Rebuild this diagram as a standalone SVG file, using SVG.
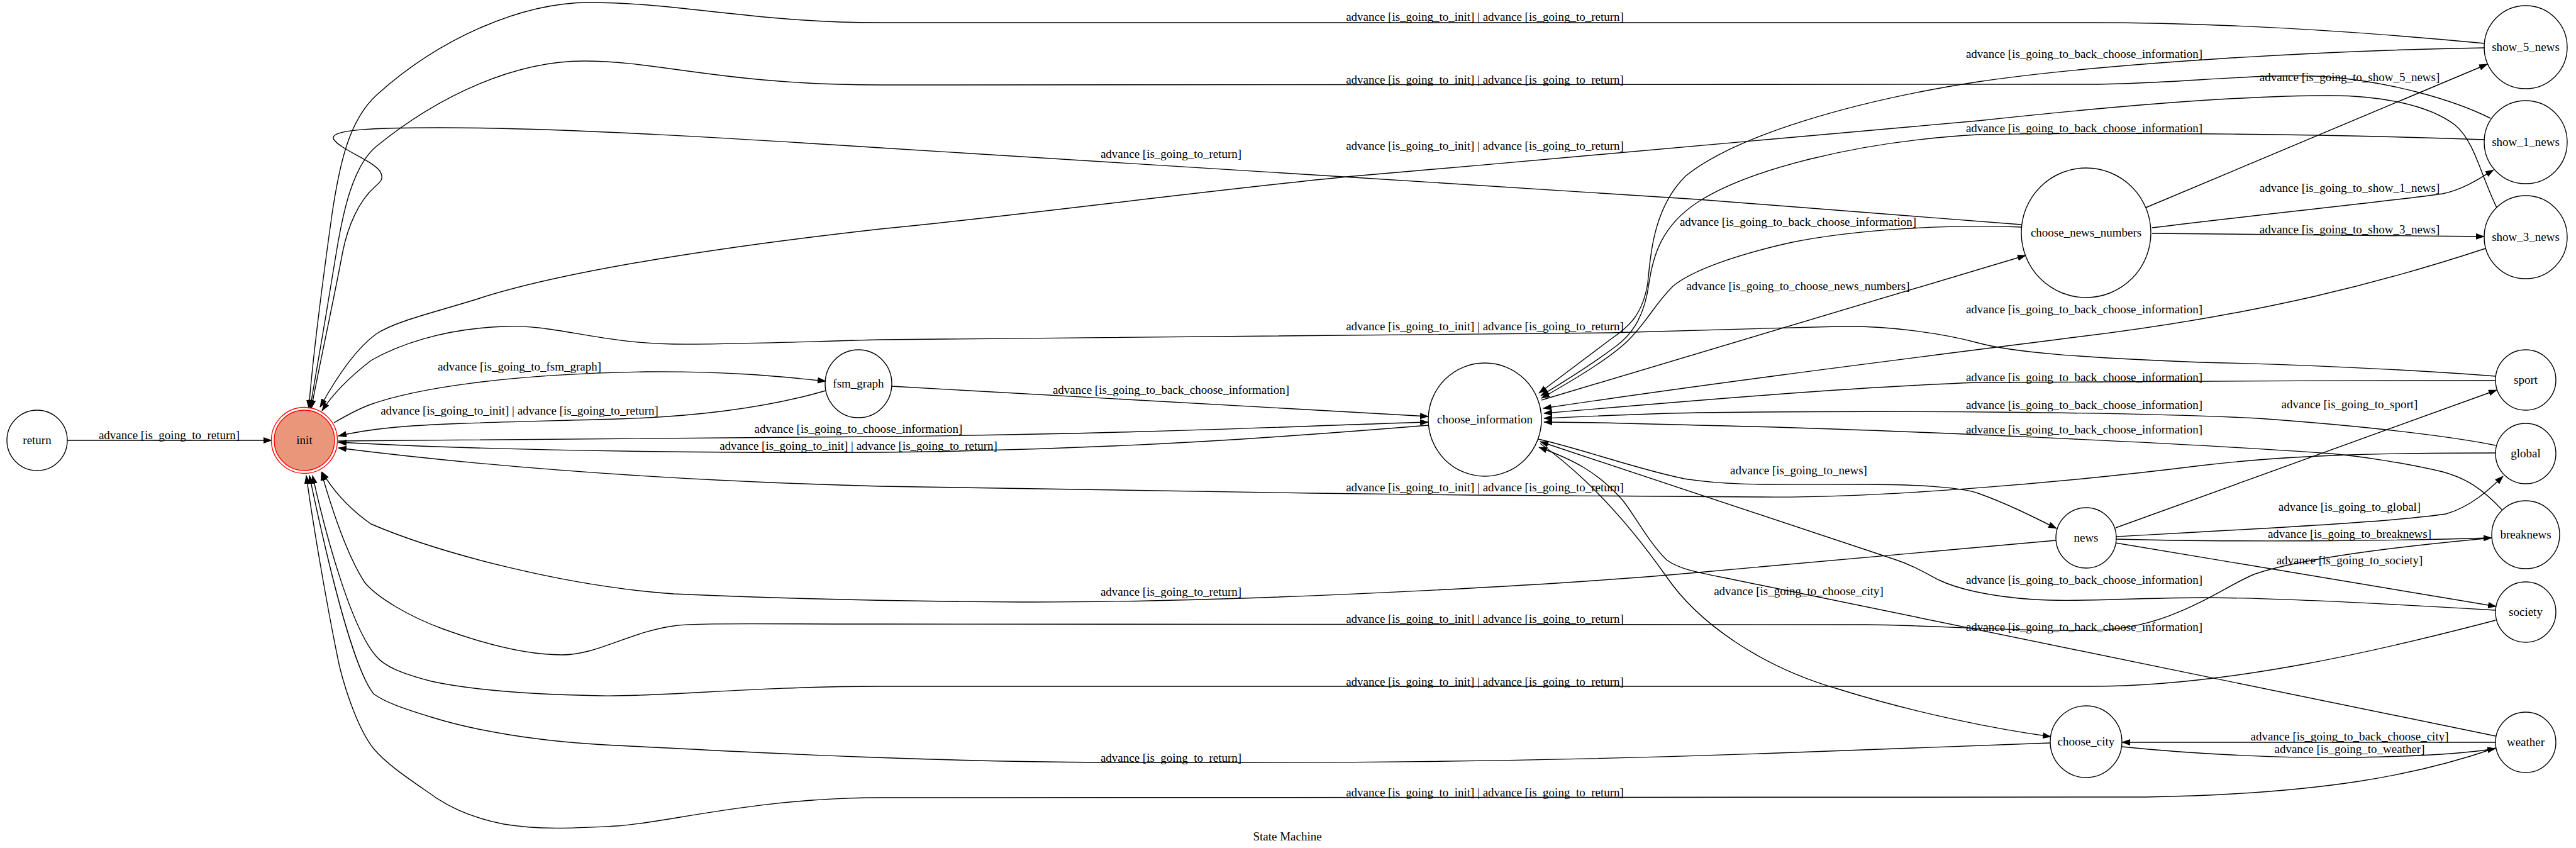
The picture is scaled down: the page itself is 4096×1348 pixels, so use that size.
<svg xmlns="http://www.w3.org/2000/svg" width="4096" height="1348" viewBox="0 0 4096 1348">
<style>
.n{fill:none;stroke:#000;stroke-width:1.4}
.e path{fill:none;stroke:#000;stroke-width:1.4;marker-end:url(#arr)}
text{font-family:"Liberation Serif","Times New Roman",serif;font-size:19px;text-anchor:middle;fill:#000}
</style>
<defs>
<marker id="arr" viewBox="0 0 14 10" refX="13" refY="5" markerWidth="14" markerHeight="10" markerUnits="userSpaceOnUse" orient="auto"><path d="M0,0 L14,5 L0,10 z" fill="#000"/></marker>
</defs>
<rect width="4096" height="1348" fill="#fff"/>
<g id="connectors" class="e">
<path d="M107,700 L432,700"/>
<path d="M531,672 C555,658 570,650 589,643 C660,618 800,595 1027,591 C1150,590 1230,597 1313,606"/>
<path d="M1313,621 C1230,645 1120,662 982,666 C850,670 700,672 620,680 C590,683 560,688 538,693"/>
<path d="M1418,614 L2271,662"/>
<path d="M538,701 C700,699 1000,698 1400,694 C1800,690 2100,676 2271,671"/>
<path d="M2272,676 C2100,690 1800,715 1400,719 C1000,721 700,712 538,703"/>
<path d="M2451,636 L3221,406"/>
<path d="M3214,361 C3100,356 2950,365 2850,385 C2760,405 2690,430 2660,455 C2630,485 2620,510 2590,540 C2560,570 2500,605 2451,633"/>
<path d="M3214,357 L2700,317 C2300,290 1700,255 1400,235 C1200,222 900,203 700,203 C600,203 520,205 531,222 C542,238 592,255 604,272 C612,284 604,290 596,297 C570,320 553,360 545,400 C530,480 508,580 495,649"/>
<path d="M3951,69 C3700,45 3500,36 3323,36 L1400,36 C1200,36 1080,4 937,4 C830,4 700,60 600,150 C555,190 540,260 528,340 C514,440 498,560 491,649"/>
<path d="M3960,188 C3900,158 3800,130 3700,122 C3600,115 3450,134 3323,134 L1400,135 C1150,135 1050,97 928,97 C820,97 700,150 598,233 C560,265 545,340 535,400 C522,480 505,580 493,649"/>
<path d="M3970,330 C3945,280 3935,225 3904,199 C3860,165 3780,152 3706,152 C3550,152 3350,170 3145,192 C2900,215 2500,250 2141,281 C1900,305 1600,345 1400,364 C1150,392 900,430 763,474 C690,497 630,510 598,531 C565,555 535,600 509,647"/>
<path d="M3968,598 C3800,585 3600,578 3500,576 C3300,568 3200,560 3145,545 C3090,530 3000,517 2923,519 C2800,522 2600,528 2561,529 L1400,540 C1250,544 1150,548 1071,547 C950,545 880,515 801,519 C700,523 630,550 590,573 C555,600 530,625 512,653"/>
<path d="M3269,859 L2700,910 C2500,928 2000,958 1623,957 C1450,956 1250,952 1071,944 C900,932 700,880 590,833 C550,805 525,772 512,750"/>
<path d="M3962,855 C3800,870 3650,890 3584,913 C3530,935 3450,1002 3323,1002 C3200,1004 3050,993 2967,993 L1400,992 C1200,992 1100,990 1071,995 C1000,1005 950,1041 893,1041 C830,1041 760,1020 705,1000 C650,980 600,950 580,926 C550,880 525,800 511,751"/>
<path d="M3968,986 C3800,1030 3550,1091 3323,1091 L1400,1091 C1200,1091 1050,1108 955,1106 C850,1104 750,1097 686,1083 C640,1071 612,1060 598,1043 C560,1000 520,860 497,756"/>
<path d="M3260,1181 L2800,1198 C2400,1212 2100,1213 1757,1212 C1400,1210 1100,1190 980,1185 C850,1179 750,1160 686,1140 C640,1126 612,1116 594,1103 C560,1060 518,880 492,756"/>
<path d="M3968,1189 C3850,1230 3700,1262 3412,1267 L1400,1268 C1200,1268 1050,1310 980,1313 C920,1316 860,1320 801,1310 C750,1300 712,1282 686,1263 C650,1238 615,1215 594,1190 C570,1160 550,1100 540,1060 C525,990 500,850 487,756"/>
<path d="M3968,720 C3800,720 3650,722 3500,740 C3300,765 3000,792 2800,790 L2337,787 C2000,783 1600,778 1400,773 C1100,765 800,745 538,712"/>
<path d="M3951,76 C3700,80 3350,100 3145,130 C2950,160 2760,215 2680,280 C2630,330 2625,400 2620,450 C2612,500 2590,520 2560,540 C2520,570 2480,600 2447,625"/>
<path d="M3951,222 C3700,213 3400,210 3145,214 C2950,225 2780,270 2700,321 C2640,360 2628,410 2622,450 C2614,510 2590,535 2570,550 C2530,580 2490,605 2450,629"/>
<path d="M3952,395 C3800,445 3600,500 3300,536 C3050,568 2750,605 2454,649"/>
<path d="M3968,605 C3700,605 3300,606 3145,608 C2950,615 2700,636 2455,657"/>
<path d="M3968,708 C3920,698 3800,680 3590,665 C3400,655 3000,652 2700,656 C2600,658 2520,662 2455,665"/>
<path d="M3978,810 C3945,775 3920,760 3884,750 C3820,735 3750,725 3706,721 C3500,706 3000,682 2700,676 C2600,673 2520,671 2455,671"/>
<path d="M3968,970 C3800,960 3600,950 3501,950 C3380,951 3300,957 3234,953 C3160,948 3110,935 3083,922 C3060,910 3040,898 3012,889 L2449,702"/>
<path d="M3968,1170 L2750,920 C2700,910 2670,905 2650,890 C2620,860 2600,820 2580,795 C2540,750 2500,730 2447,711"/>
<path d="M2446,698 C2520,715 2600,745 2678,761 C2750,772 2800,770 2967,770 C3050,770 3120,775 3145,784 C3190,800 3230,820 3270,840"/>
<path d="M2449,705 C2540,770 2610,860 2650,917 C2700,990 2800,1060 2922,1095 C3050,1135 3180,1160 3261,1171"/>
<path d="M3412,330 L3955,102"/>
<path d="M3422,362 C3600,340 3800,320 3884,308 C3920,300 3945,282 3965,270"/>
<path d="M3422,371 L3950,376"/>
<path d="M3364,839 L3970,620"/>
<path d="M3364,853 C3600,840 3800,830 3889,817 C3930,805 3958,778 3980,757"/>
<path d="M3364,857 C3550,862 3800,860 3962,855"/>
<path d="M3364,863 L3969,964"/>
<path d="M3374,1187 C3500,1200 3650,1206 3750,1204 C3850,1202 3920,1198 3968,1190"/>
<path d="M3968,1180 L3374,1180"/>
</g>
<g id="edge-labels">
<text x="269" y="698">advance [is_going_to_return]</text>
<text x="826" y="589">advance [is_going_to_fsm_graph]</text>
<text x="826" y="659">advance [is_going_to_init] | advance [is_going_to_return]</text>
<text x="1862" y="626">advance [is_going_to_back_choose_information]</text>
<text x="1365" y="688">advance [is_going_to_choose_information]</text>
<text x="1365" y="715">advance [is_going_to_init] | advance [is_going_to_return]</text>
<text x="2859" y="461">advance [is_going_to_choose_news_numbers]</text>
<text x="2859" y="359">advance [is_going_to_back_choose_information]</text>
<text x="1862" y="251">advance [is_going_to_return]</text>
<text x="2361" y="33">advance [is_going_to_init] | advance [is_going_to_return]</text>
<text x="2361" y="133">advance [is_going_to_init] | advance [is_going_to_return]</text>
<text x="2361" y="238">advance [is_going_to_init] | advance [is_going_to_return]</text>
<text x="2361" y="525">advance [is_going_to_init] | advance [is_going_to_return]</text>
<text x="2361" y="781">advance [is_going_to_init] | advance [is_going_to_return]</text>
<text x="2361" y="990">advance [is_going_to_init] | advance [is_going_to_return]</text>
<text x="2361" y="1090">advance [is_going_to_init] | advance [is_going_to_return]</text>
<text x="2361" y="1266">advance [is_going_to_init] | advance [is_going_to_return]</text>
<text x="1862" y="947">advance [is_going_to_return]</text>
<text x="1862" y="1211">advance [is_going_to_return]</text>
<text x="3314" y="92">advance [is_going_to_back_choose_information]</text>
<text x="3314" y="210">advance [is_going_to_back_choose_information]</text>
<text x="3314" y="498">advance [is_going_to_back_choose_information]</text>
<text x="3314" y="606">advance [is_going_to_back_choose_information]</text>
<text x="3314" y="650">advance [is_going_to_back_choose_information]</text>
<text x="3314" y="689">advance [is_going_to_back_choose_information]</text>
<text x="3314" y="928">advance [is_going_to_back_choose_information]</text>
<text x="3314" y="1003">advance [is_going_to_back_choose_information]</text>
<text x="3736" y="129">advance [is_going_to_show_5_news]</text>
<text x="3736" y="305">advance [is_going_to_show_1_news]</text>
<text x="3736" y="371">advance [is_going_to_show_3_news]</text>
<text x="3736" y="649">advance [is_going_to_sport]</text>
<text x="3736" y="812">advance [is_going_to_global]</text>
<text x="3736" y="855">advance [is_going_to_breaknews]</text>
<text x="3736" y="897">advance [is_going_to_society]</text>
<text x="2860" y="754">advance [is_going_to_news]</text>
<text x="2860" y="946">advance [is_going_to_choose_city]</text>
<text x="3736" y="1177">advance [is_going_to_back_choose_city]</text>
<text x="3736" y="1197">advance [is_going_to_weather]</text>
</g>
<g id="node-return"><ellipse class="n" cx="59" cy="700" rx="48" ry="48"/><text x="59" y="706">return</text></g>
<g id="node-init"><ellipse cx="484" cy="700" rx="52.5" ry="52.5" fill="none" stroke="#ff0000" stroke-width="1.4"/><ellipse cx="484" cy="700" rx="48" ry="48" fill="#e9967a" stroke="#ff0000" stroke-width="1.4"/><text x="484" y="706">init</text></g>
<g id="node-fsm_graph"><ellipse class="n" cx="1365" cy="610" rx="53" ry="54"/><text x="1365" y="616">fsm_graph</text></g>
<g id="node-choose_information"><ellipse class="n" cx="2361" cy="667" rx="90" ry="90"/><text x="2361" y="673">choose_information</text></g>
<g id="node-choose_news_numbers"><ellipse class="n" cx="3317" cy="370" rx="103" ry="103"/><text x="3317" y="376">choose_news_numbers</text></g>
<g id="node-news"><ellipse class="n" cx="3317" cy="855" rx="48" ry="48"/><text x="3317" y="861">news</text></g>
<g id="node-choose_city"><ellipse class="n" cx="3317" cy="1179" rx="57" ry="57"/><text x="3317" y="1185">choose_city</text></g>
<g id="node-show_5_news"><ellipse class="n" cx="4016" cy="75" rx="66" ry="66"/><text x="4016" y="81">show_5_news</text></g>
<g id="node-show_1_news"><ellipse class="n" cx="4016" cy="226" rx="66" ry="66"/><text x="4016" y="232">show_1_news</text></g>
<g id="node-show_3_news"><ellipse class="n" cx="4016" cy="377" rx="66" ry="66"/><text x="4016" y="383">show_3_news</text></g>
<g id="node-sport"><ellipse class="n" cx="4016" cy="604" rx="48" ry="48"/><text x="4016" y="610">sport</text></g>
<g id="node-global"><ellipse class="n" cx="4016" cy="721" rx="48" ry="48"/><text x="4016" y="727">global</text></g>
<g id="node-breaknews"><ellipse class="n" cx="4016" cy="850" rx="54" ry="54"/><text x="4016" y="856">breaknews</text></g>
<g id="node-society"><ellipse class="n" cx="4016" cy="973" rx="48" ry="48"/><text x="4016" y="979">society</text></g>
<g id="node-weather"><ellipse class="n" cx="4016" cy="1180" rx="48" ry="48"/><text x="4016" y="1186">weather</text></g>
<text x="2047" y="1336">State Machine</text>
</svg>
